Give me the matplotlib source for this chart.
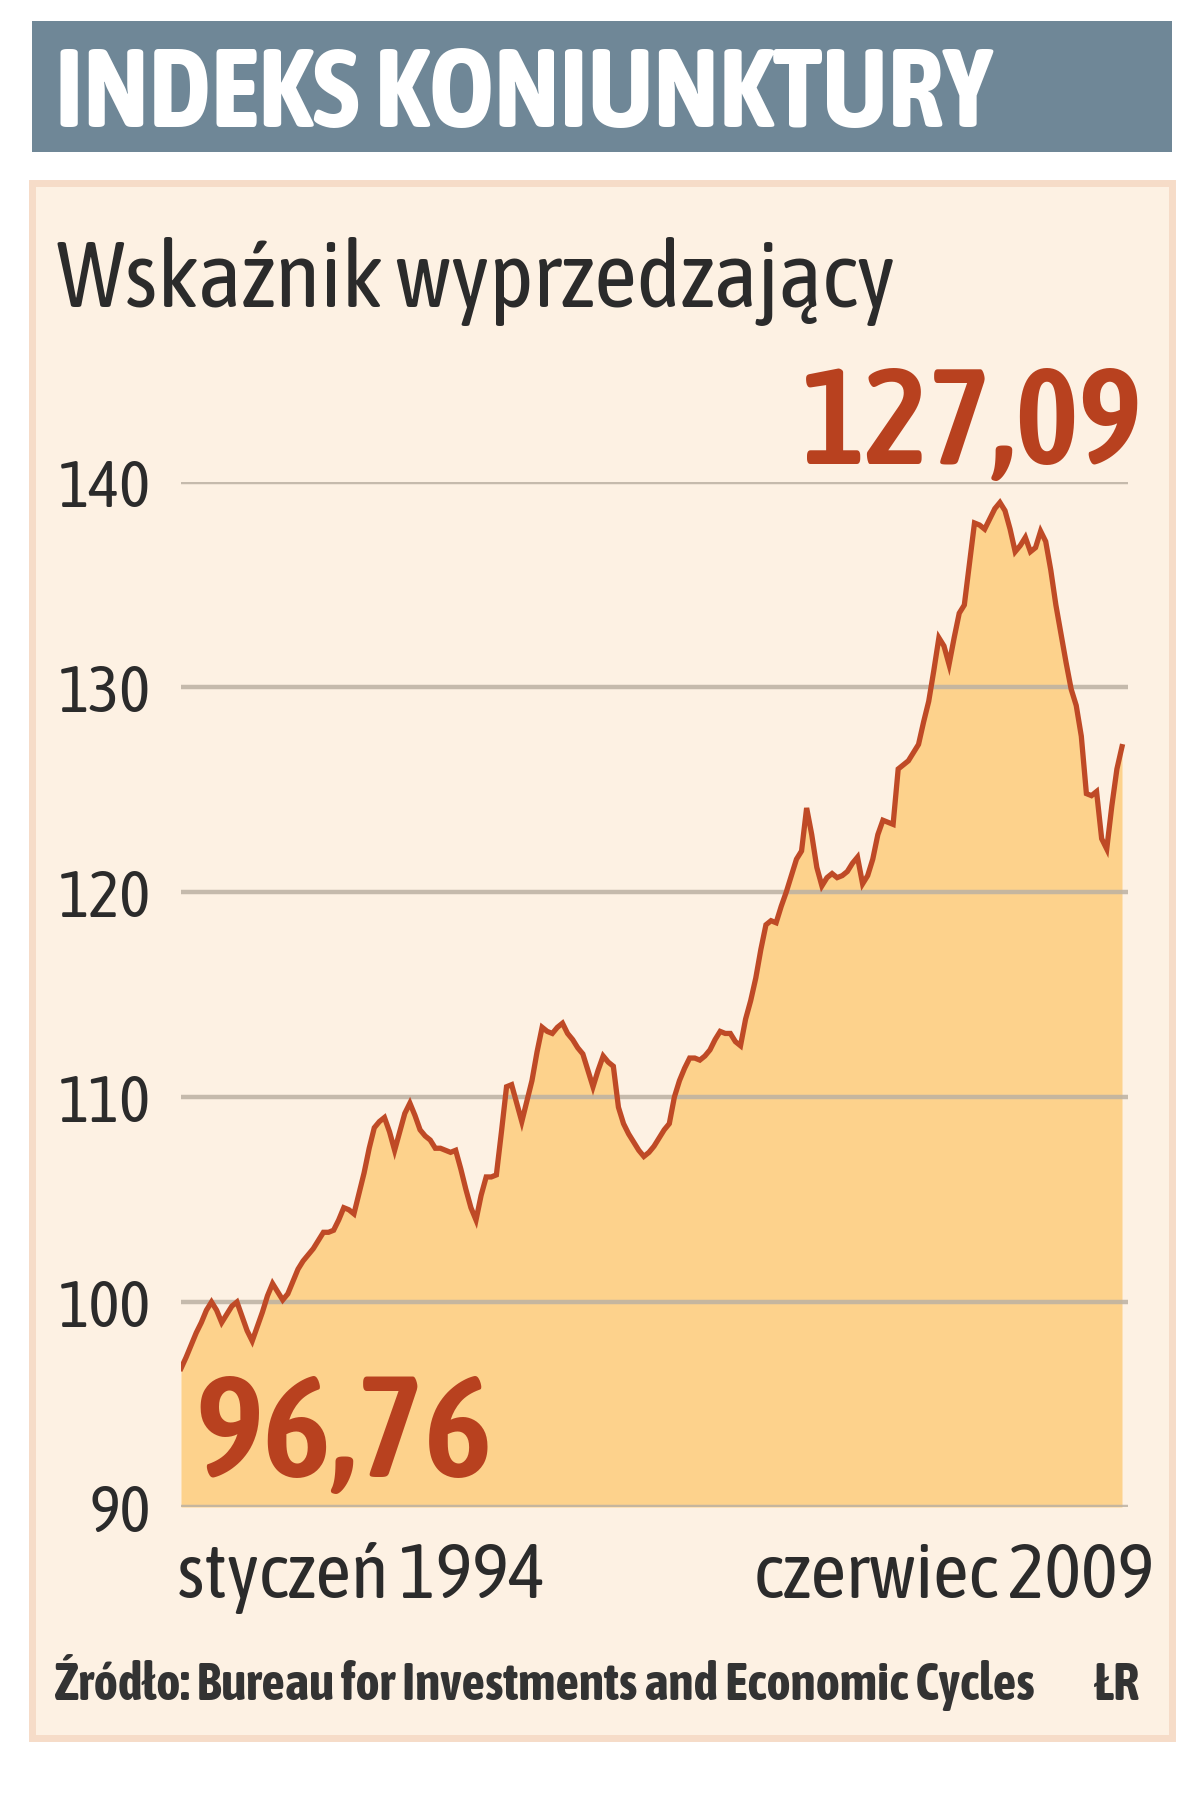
import numpy as np
import pandas as pd
import matplotlib
matplotlib.use('Agg')
import matplotlib.pyplot as plt
from matplotlib.patches import Rectangle

# ---------------------------------- data ---------------------------------- #
start_month = '1994-01'
end_month = '2009-06'
values = [
    96.76, 97.3, 97.9, 98.5, 99.0, 99.6, 100.0, 99.6, 99.0, 99.4, 99.8, 100.0,
    99.3, 98.6, 98.1, 98.8, 99.5, 100.3, 100.9, 100.5, 100.1, 100.4, 101.0, 101.6,
    102.0, 102.3, 102.6, 103.0, 103.4, 103.4, 103.5, 104.0, 104.6, 104.5, 104.3, 105.3,
    106.3, 107.5, 108.5, 108.8, 109.0, 108.3, 107.4, 108.3, 109.2, 109.7, 109.1, 108.4,
    108.1, 107.9, 107.5, 107.5, 107.4, 107.3, 107.4, 106.5, 105.5, 104.6, 104.0, 105.2,
    106.1, 106.1, 106.2, 108.3, 110.5, 110.6, 109.7, 108.8, 109.8, 110.8, 112.2, 113.4,
    113.2, 113.1, 113.4, 113.6, 113.1, 112.8, 112.4, 112.1, 111.3, 110.5, 111.3, 112.0,
    111.7, 111.5, 109.5, 108.7, 108.2, 107.8, 107.4, 107.1, 107.3, 107.6, 108.0, 108.4,
    108.7, 110.0, 110.8, 111.4, 111.9, 111.9, 111.8, 112.0, 112.3, 112.8, 113.2, 113.1,
    113.1, 112.7, 112.5, 113.8, 114.7, 115.8, 117.2, 118.4, 118.6, 118.5, 119.3, 120.0,
    120.8, 121.6, 122.0, 124.1, 122.8, 121.2, 120.3, 120.7, 120.9, 120.7, 120.8, 121.0,
    121.4, 121.7, 120.4, 120.8, 121.6, 122.8, 123.5, 123.4, 123.3, 126.0, 126.2, 126.4,
    126.8, 127.2, 128.3, 129.3, 130.8, 132.4, 132.0, 131.1, 132.4, 133.6, 134.0, 136.0,
    138.0, 137.9, 137.7, 138.2, 138.7, 139.0, 138.6, 137.7, 136.6, 136.9, 137.3, 136.6,
    136.8, 137.6, 137.1, 135.7, 134.0, 132.6, 131.2, 129.9, 129.1, 127.6, 124.8, 124.7,
    124.9, 122.6, 122.1, 124.2, 126.0, 127.09,
]
yticks = [90, 100, 110, 120, 130, 140]
title = 'INDEKS KONIUNKTURY'
subtitle = 'Wskaźnik wyprzedzający'
first_label = '96,76'
last_label = '127,09'
start_label = 'styczeń 1994'
end_label = 'czerwiec 2009'
source = 'Źródło: Bureau for Investments and Economic Cycles'
signature = 'ŁR'

months = pd.period_range(start_month, end_month, freq='M')
series = pd.Series(values, index=months)
x = np.arange(len(series))

# --------------------------------- styling -------------------------------- #
W, H = 1200, 1796
plt.rcParams['font.family'] = ['Asap Condensed', 'Archivo Narrow', 'DejaVu Sans']

banner_col = '#6f8797'
panel_col = '#fdf1e3'
edge_col = '#f6dcc8'
fill_col = '#fdd28c'
line_col = '#bf4a26'
red_txt = '#b8411f'
grid_col = '#bbb1a3'
txt_col = '#2b2b2b'


def fx(px):
    return px / W


def fy(py):
    return 1 - py / H


fig = plt.figure(figsize=(W / 100, H / 100), dpi=100)
fig.patch.set_facecolor('white')

# banner + panel
fig.patches.append(Rectangle((fx(32), fy(152)), fx(1172) - fx(32), fy(21) - fy(152),
                             transform=fig.transFigure, facecolor=banner_col,
                             edgecolor='none', zorder=-2))
fig.patches.append(Rectangle((fx(32), fy(1738)), fx(1172) - fx(32), fy(183) - fy(1738),
                             transform=fig.transFigure, facecolor=panel_col,
                             edgecolor=edge_col, linewidth=5, zorder=-2))

fig.text(fx(55), fy(127), title, color='white', fontsize=80, fontweight='bold',
         va='baseline', ha='left')
fig.text(fx(57), fy(307), subtitle, color=txt_col, fontsize=67,
         va='baseline', ha='left')

# ---------------------------------- chart --------------------------------- #
ax_left, ax_right, ax_top, ax_bottom = 181, 1128, 482, 1507
ax = fig.add_axes([fx(ax_left), fy(ax_bottom), fx(ax_right) - fx(ax_left),
                   fy(ax_top) - fy(ax_bottom)])
ax.set_facecolor('none')
ax.set_xlim(0, (len(series) - 1) * (ax_right - ax_left) / (1122 - ax_left))
ax.set_ylim(90, 140)

ax.fill_between(x, series.values, 90, color=fill_col, linewidth=0, zorder=1)
for t in yticks:
    ax.axhline(t, color=grid_col, linewidth=3.2, alpha=0.85, zorder=2)
ax.plot(x, series.values, color=line_col, linewidth=3.8, zorder=3,
        solid_joinstyle='miter')

ax.set_yticks(yticks)
ax.set_yticklabels([str(t) for t in yticks])
ax.tick_params(axis='y', length=0, pad=22, labelsize=47, labelcolor=txt_col)
ax.set_xticks([])
for s in ax.spines.values():
    s.set_visible(False)

# value labels
fig.text(fx(1143), fy(464), last_label, color=red_txt, fontsize=97,
         fontweight='semibold', ha='right', va='baseline')
fig.text(fx(195), fy(1477), first_label, color=red_txt, fontsize=104,
         fontweight='semibold', ha='left', va='baseline')

# period labels
fig.text(fx(177), fy(1598), start_label, color=txt_col, fontsize=56,
         ha='left', va='baseline')
fig.text(fx(1154), fy(1598), end_label, color=txt_col, fontsize=56,
         ha='right', va='baseline')

# source
fig.text(fx(55), fy(1700), source, color='#333333', fontsize=37.3,
         fontweight='bold', ha='left', va='baseline')
fig.text(fx(1140), fy(1700), signature, color='#333333', fontsize=37.3,
         fontweight='bold', ha='right', va='baseline')

plt.savefig('out.png', dpi=100, facecolor=fig.get_facecolor())
